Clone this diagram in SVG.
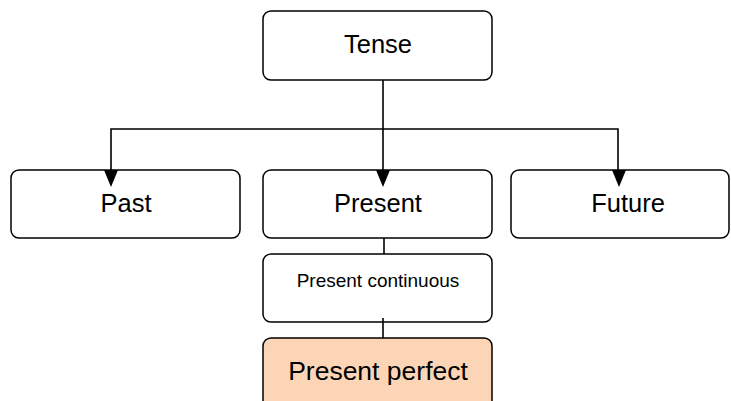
<svg xmlns="http://www.w3.org/2000/svg" width="731" height="401" viewBox="0 0 731 401">
  <style>
    .box { fill: #ffffff; stroke: #000000; stroke-width: 1.5; }
    .hl { fill: #fbd5b5; }
    .lbl { font-family: "Liberation Sans", Arial, sans-serif; fill: #000000; text-anchor: middle; }
    .big { font-size: 25.5px; }
    .small { font-size: 19px; }
    .wire { fill: none; stroke: #000000; stroke-width: 1.6; }
    .head { fill: #000000; }
  </style>
  <rect width="731" height="401" fill="#ffffff"/>

  <g id="tense">
    <rect class="box" x="263" y="11" width="229" height="69" rx="8"/>
    <text class="lbl big" x="378" y="53">Tense</text>
  </g>

  <g id="past">
    <rect class="box" x="11" y="170" width="229" height="68" rx="8"/>
    <text class="lbl big" x="126" y="212">Past</text>
  </g>

  <g id="present">
    <rect class="box" x="263" y="170" width="229" height="68" rx="8"/>
    <text class="lbl big" x="378" y="212">Present</text>
  </g>

  <g id="future">
    <rect class="box" x="511" y="170" width="218" height="68" rx="8"/>
    <text class="lbl big" x="628" y="212">Future</text>
  </g>

  <g id="present-continuous">
    <rect class="box" x="263" y="254" width="229" height="68" rx="8"/>
    <text class="lbl small" x="378" y="287">Present continuous</text>
  </g>

  <g id="present-perfect">
    <rect class="box hl" x="263" y="338" width="229" height="80" rx="8"/>
    <text class="lbl" x="378" y="380" style="font-size:26.5px">Present perfect</text>
  </g>

  <!-- drawn last so the arrowheads sit on top of the box borders -->
  <g id="connectors">
    <line class="wire" x1="383" y1="80" x2="383" y2="171"/>
    <polyline class="wire" points="111,171 111,129 618,129 618,171"/>
    <polygon class="head" points="104,170 118,170 111,187"/>
    <polygon class="head" points="376,170 390,170 383,187"/>
    <polygon class="head" points="612,170 626,170 619,187"/>
    <line class="wire" x1="384" y1="238" x2="384" y2="254"/>
    <line class="wire" x1="383" y1="318" x2="383" y2="338"/>
  </g>
</svg>
